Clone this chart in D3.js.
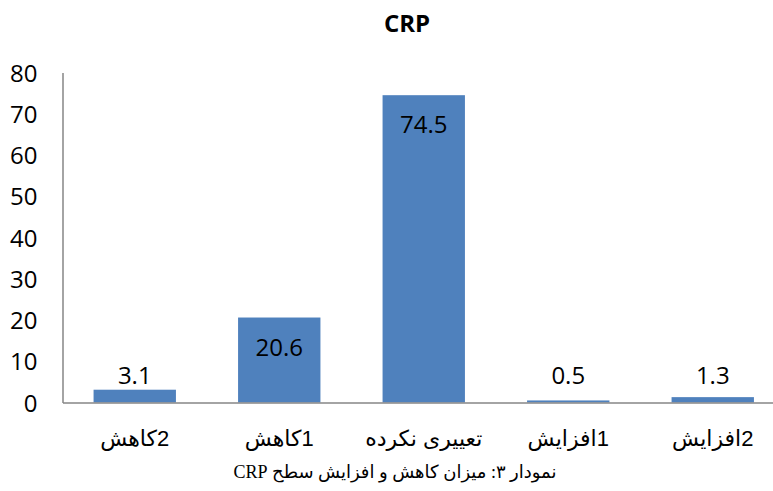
<!DOCTYPE html>
<html>
<head>
<meta charset="utf-8">
<script src="https://cdnjs.cloudflare.com/ajax/libs/d3/7.8.5/d3.min.js"></script>
<style>
  body { margin: 0; background: #fff; }
  svg { display: block; }
</style>
</head>
<body>
<div class="chart"></div>
<script>
// chart data
const categories = ["2کاهش", "1کاهش", "تعییری نکرده", "1افزایش", "2افزایش"];
const values = [3.1, 20.6, 74.5, 0.5, 1.3];
const yTicks = [0, 10, 20, 30, 40, 50, 60, 70, 80];
const title = "CRP";
const caption = "نمودار ۳: میزان کاهش و افزایش سطح CRP";

const width = 773;
const height = 491;

const svg = d3.select(".chart")
    .append("svg")
    .attr("width", width)
    .attr("height", height);

const x = d3.scaleBand()
    .domain(categories)
    .range([62.5, 785])
    .paddingInner(0.43)
    .paddingOuter(0.215);

const y = d3.scaleLinear()
    .domain([0, 80])
    .range([402.5, 72.5]);

// title
svg.append("text")
    .attr("x", 407)
    .attr("y", 32)
    .attr("text-anchor", "middle")
    .style("font-family", "'Open Sans'")
    .style("font-weight", "bold")
    .style("font-size", "24px")
    .text(title);

// y axis
const yAxis = d3.axisLeft(y).tickValues(yTicks).tickSize(0).tickPadding(25);
const gy = svg.append("g")
    .attr("transform", "translate(" + [62.5, 0] + ")")
    .call(yAxis);
gy.select(".domain").attr("stroke", "#868686").attr("stroke-width", 1.5);
gy.selectAll("text")
    .style("font-family", "'Open Sans'")
    .style("font-size", "24px")
    .attr("fill", "#000")
    .attr("dy", "0.36em");

// bars
svg.selectAll("rect.bar")
    .data(values)
    .enter()
    .append("rect")
    .attr("class", "bar")
    .attr("x", (d, i) => x(categories[i]))
    .attr("y", (d) => y(d))
    .attr("width", x.bandwidth())
    .attr("height", (d) => y(0) - y(d))
    .attr("fill", "#4F81BD");

// x axis
const xAxis = d3.axisBottom(x).tickSize(0).tickPadding(0).tickSizeOuter(0);
const gx = svg.append("g")
    .attr("transform", "translate(" + [0, 402.5] + ")")
    .call(xAxis);
gx.select(".domain").attr("stroke", "#868686").attr("stroke-width", 1.5);
gx.selectAll("text")
    .attr("y", 43)
    .attr("dy", 0)
    .attr("direction", "rtl")
    .style("font-family", "'Liberation Sans', 'DejaVu Sans'")
    .style("font-size", "22px")
    .attr("fill", "#000");

// value labels
svg.selectAll("text.val")
    .data(values)
    .enter()
    .append("text")
    .attr("class", "val")
    .attr("x", (d, i) => x(categories[i]) + x.bandwidth() / 2)
    .attr("y", (d) => d > 10 ? y(d) + 38 : y(0) - 18.5)
    .attr("text-anchor", "middle")
    .style("font-family", "'Open Sans'")
    .style("font-size", "24px")
    .attr("fill", "#000")
    .text((d) => d);

// caption
svg.append("text")
    .attr("x", 395)
    .attr("y", 478)
    .attr("text-anchor", "middle")
    .attr("direction", "rtl")
    .style("font-family", "'Liberation Serif', 'DejaVu Sans'")
    .style("font-size", "18px")
    .attr("fill", "#000")
    .text(caption);
</script>
</body>
</html>
